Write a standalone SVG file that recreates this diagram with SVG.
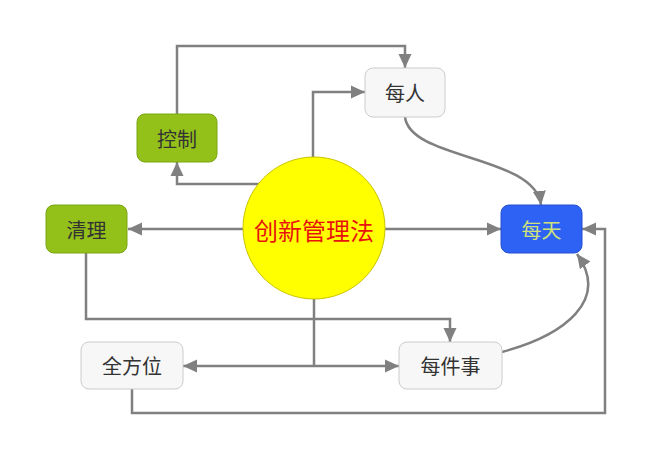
<svg xmlns="http://www.w3.org/2000/svg" width="650" height="458" viewBox="0 0 650 458">
<style>
.c{fill:none;stroke:#808080;stroke-width:2.5}
.t{font-family:"Noto Sans CJK SC","Noto Sans",sans-serif;font-size:20px;text-anchor:middle;dominant-baseline:central;fill:#333}
.g{fill:#93c11a;stroke:#7aa514;stroke-width:1}
.w{fill:#f7f7f7;stroke:#cccccc;stroke-width:1}
</style>
<defs>
<marker id="a" markerUnits="userSpaceOnUse" markerWidth="15" markerHeight="15" viewBox="0 0 15 15" refX="14" refY="7.5" orient="auto">
<path d="M0,1 L14,7.5 L0,14 Z" fill="#808080"/>
</marker>
</defs>
<rect width="650" height="458" fill="#fff"/>
<g id="connectors">
<path class="c" d="M177,114 V46 H405 V68" marker-end="url(#a)"/>
<path class="c" d="M313,157 V92 H365" marker-end="url(#a)"/>
<path class="c" d="M259,184 H177 V162" marker-end="url(#a)"/>
<path class="c" d="M243,229 H128" marker-end="url(#a)"/>
<path class="c" d="M385,229 H501" marker-end="url(#a)"/>
<path class="c" d="M86,253 V319 H450 V342" marker-end="url(#a)"/>
<path class="c" d="M314,299 V366"/>
<path class="c" d="M314,366 H183" marker-end="url(#a)"/>
<path class="c" d="M314,366 H399" marker-end="url(#a)"/>
<path class="c" d="M132,389 V413 H605 V229 H582" marker-end="url(#a)"/>
<path class="c" d="M405,117 C410,160 535,155 541,205" marker-end="url(#a)"/>
<path class="c" d="M502,352 C565,335 610,300 577,254" marker-end="url(#a)"/>
</g>
<g id="center">
<ellipse cx="314" cy="228" rx="71" ry="71" fill="#ffff00" stroke="#c9c300" stroke-width="1"/>
<text x="314" y="229" class="t" style="font-size:24px;fill:#e8130e">创新管理法</text>
</g>
<g id="kongzhi">
<rect x="137" y="114" width="80" height="48" rx="8" class="g"/>
<text x="177" y="138" class="t">控制</text>
</g>
<g id="meiren">
<rect x="365" y="68" width="80" height="49" rx="8" class="w"/>
<text x="405" y="92.5" class="t">每人</text>
</g>
<g id="qingli">
<rect x="46" y="205" width="81" height="48" rx="8" class="g"/>
<text x="86.5" y="229" class="t">清理</text>
</g>
<g id="meitian">
<rect x="501" y="205" width="81" height="48" rx="8" fill="#2e62f5" stroke="#2450d0" stroke-width="1"/>
<text x="541.5" y="229" class="t" style="fill:#cfe27a">每天</text>
</g>
<g id="quanfangwei">
<rect x="81" y="342" width="102" height="47" rx="8" class="w"/>
<text x="132" y="365.5" class="t">全方位</text>
</g>
<g id="meijianshi">
<rect x="399" y="342" width="103" height="47" rx="8" class="w"/>
<text x="450.5" y="365.5" class="t">每件事</text>
</g>
</svg>
